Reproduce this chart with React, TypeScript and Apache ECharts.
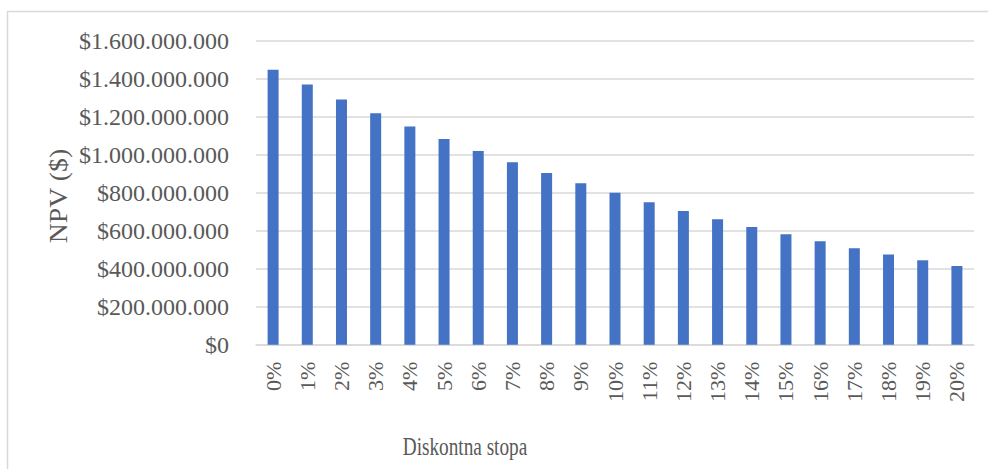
import React, { useEffect, useRef } from "react";
import * as echarts from "echarts";

const categories = ["0%", "1%", "2%", "3%", "4%", "5%", "6%", "7%", "8%", "9%", "10%", "11%", "12%", "13%", "14%", "15%", "16%", "17%", "18%", "19%", "20%"];
const npvValues = [1446e6, 1369e6, 1290e6, 1218e6, 1148e6, 1082e6, 1019e6, 959e6, 903e6, 849e6, 799e6, 749e6, 703e6, 660e6, 619e6, 581e6, 544e6, 507e6, 475e6, 444e6, 414e6];
const yTitle = "NPV ($)";
const xTitle = "Diskontna stopa";

const FONT = "'Liberation Serif', 'Times New Roman', serif";
const TEXT = "#595959";
const GRID = "#d9d9d9";

function fmt(v: number): string {
  const s = Math.round(v).toString().replace(/\B(?=(\d{3})+(?!\d))/g, ".");
  return "$" + s;
}

export default function App() {
  const ref = useRef<HTMLDivElement>(null);
  useEffect(() => {
    if (!ref.current) return;
    const chart = echarts.init(ref.current, undefined, { renderer: "svg" });
    chart.setOption({
      animation: false,
      backgroundColor: "#ffffff",
      grid: { left: 256, right: 14, top: 40.5, bottom: 124.3 },
      xAxis: {
        type: "category",
        data: categories,
        axisLine: { show: true, lineStyle: { color: GRID, width: 1.5 } },
        axisTick: { show: false },
        axisLabel: {
          rotate: 90,
          margin: 17,
          interval: 0,
          color: TEXT,
          fontFamily: FONT,
          fontSize: 22,
        },
      },
      yAxis: {
        type: "value",
        min: 0,
        max: 1.6e9,
        interval: 2e8,
        axisLine: { show: false },
        axisTick: { show: false },
        splitLine: { lineStyle: { color: GRID, width: 1.5 } },
        axisLabel: {
          margin: 27,
          color: TEXT,
          fontFamily: FONT,
          fontSize: 24,
          formatter: (v: number) => fmt(v),
        },
      },
      series: [
        {
          type: "bar",
          data: npvValues,
          barWidth: 11,
          itemStyle: { color: "#4472C4" },
        },
      ],
      graphic: [
        {
          type: "rect",
          shape: { x: 7.5, y: 11.5, width: 1100, height: 600 },
          style: { fill: "none", stroke: GRID, lineWidth: 1.5 },
          silent: true,
        },
        {
          type: "text",
          x: 58,
          y: 196,
          rotation: Math.PI / 2,
          scaleX: 1.07,
          style: {
            text: yTitle,
            fill: TEXT,
            fontFamily: FONT,
            fontSize: 26,
            align: "center",
            verticalAlign: "middle",
          },
        },
        {
          type: "text",
          x: 465,
          y: 447,
          scaleX: 0.77,
          style: {
            text: xTitle,
            fill: TEXT,
            fontFamily: FONT,
            fontSize: 25,
            align: "center",
            verticalAlign: "middle",
          },
        },
      ],
    });
    return () => chart.dispose();
  }, []);
  return (
    <div
      ref={ref}
      style={{ position: "fixed", left: 0, top: 0, width: 988, height: 469 }}
    />
  );
}
